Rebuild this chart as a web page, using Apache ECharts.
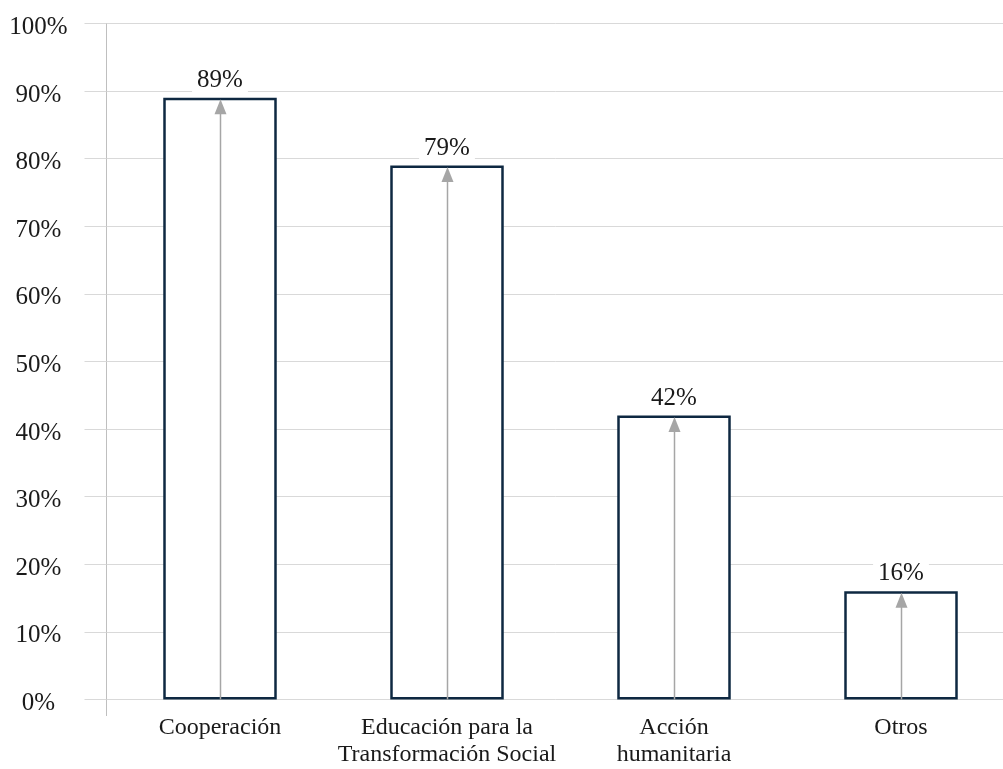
<!DOCTYPE html>
<html>
<head>
<meta charset="utf-8">
<script src="https://cdn.jsdelivr.net/npm/echarts@6/dist/echarts.min.js"></script>
<style>
  html, body { margin: 0; padding: 0; background: #ffffff; }
  #chart { width: 1003px; height: 769px; }
</style>
</head>
<body>
<div id="chart"></div>
<script>
// Share of organisations working in each area (%)
const categories = [
  'Cooperación',
  'Educación para la\nTransformación Social',
  'Acción\nhumanitaria',
  'Otros'
];
const values = [89, 79, 42, 16];

const FONT = '"Liberation Serif", "DejaVu Serif", serif';
const TEXT = '#1a1a1a';

const chart = echarts.init(document.getElementById('chart'), null, { renderer: 'canvas' });

// Arrow from the baseline up to the top of each bar
function renderArrow(params, api) {
  const i = api.value(0);
  const v = api.value(1);
  const p0 = api.coord([i, 0]);
  const p1 = api.coord([i, v]);
  const x = Math.round(p0[0]) + 0.5;
  const tipY = p1[1] + 1.5;
  const headH = 15, headW = 12;
  return {
    type: 'group',
    silent: true,
    children: [
      {
        type: 'line',
        shape: { x1: x, y1: p0[1], x2: x, y2: tipY + headH - 1 },
        style: { stroke: '#a6a6a6', lineWidth: 1.5 }
      },
      {
        type: 'polygon',
        shape: { points: [[x, tipY], [x - headW / 2, tipY + headH], [x + headW / 2, tipY + headH]] },
        style: { fill: '#a6a6a6' }
      }
    ]
  };
}

chart.setOption({
  animation: false,
  backgroundColor: '#ffffff',
  grid: {
    left: 106.5, right: -11.5, top: 23.5, bottom: 69.5,
    containLabel: false,
    outerBoundsMode: 'none'
  },
  xAxis: {
    type: 'category',
    data: categories,
    axisLine: { show: false },
    axisTick: { show: false },
    axisLabel: {
      margin: 15,
      fontFamily: FONT,
      fontSize: 24,
      lineHeight: 27,
      color: TEXT,
      interval: 0
    }
  },
  yAxis: {
    type: 'value',
    min: 0,
    max: 100,
    interval: 10,
    axisLine: { show: true, lineStyle: { color: '#bfbfbf', width: 1 } },
    axisTick: { show: true, length: 22, lineStyle: { color: '#d9d9d9', width: 1 } },
    splitLine: { show: true, lineStyle: { color: '#d9d9d9', width: 1 } },
    axisLabel: {
      formatter: (v) => '{t|' + v + '%}',
      align: 'center',
      margin: 68,
      rich: {
        t: {
          fontFamily: FONT,
          fontSize: 25,
          color: TEXT,
          padding: [8, 0, 0, 0]
        }
      }
    }
  },
  series: [
    {
      type: 'bar',
      data: values,
      barWidth: '50%',
      itemStyle: { color: '#ffffff', borderColor: '#0e2841', borderWidth: 2.5 },
      emphasis: { disabled: true },
      label: {
        show: true,
        position: 'top',
        distance: 4,
        formatter: '{c}%',
        fontFamily: FONT,
        fontSize: 25,
        color: TEXT,
        backgroundColor: '#ffffff',
        padding: [1, 5]
      }
    },
    {
      type: 'custom',
      data: values.map((v, i) => [i, v]),
      renderItem: renderArrow,
      silent: true,
      z: 3
    }
  ]
});

// Short extension of the value axis line below the baseline
const base = chart.convertToPixel({ gridIndex: 0 }, [0, 0]);
const axisX = chart.getModel().getComponent('grid', 0).coordinateSystem.getRect().x;
chart.setOption({
  graphic: [{
    type: 'line',
    silent: true,
    shape: { x1: axisX, y1: base[1], x2: axisX, y2: base[1] + 16.5 },
    style: { stroke: '#bfbfbf', lineWidth: 1 }
  }]
});
</script>
</body>
</html>
